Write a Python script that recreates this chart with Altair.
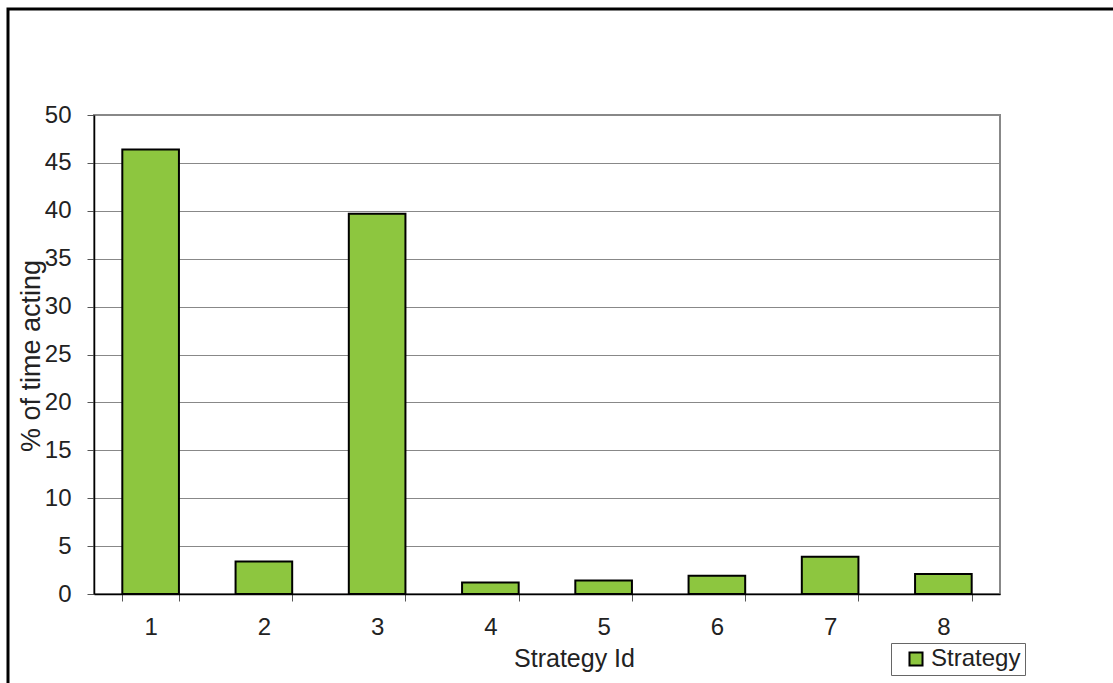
import altair as alt
import pandas as pd

strategy_ids = ["1", "2", "3", "4", "5", "6", "7", "8"]
pct_time = [46.4, 3.4, 39.7, 1.2, 1.4, 1.9, 3.9, 2.1]
series_name = ["Strategy"] * 8

df = pd.DataFrame({"id": strategy_ids, "pct": pct_time, "series": series_name})

FONT = "Liberation Sans"

bars = alt.Chart(df).mark_bar(stroke="black", strokeWidth=2).encode(
    x=alt.X("id:N", sort=strategy_ids,
            scale=alt.Scale(paddingInner=0.5, paddingOuter=0.25),
            axis=alt.Axis(title="Strategy Id", labelAngle=0, tickBand="extent",
                          tickSize=7, tickColor="#555", domainColor="black", domainWidth=1.5,
                          labelPadding=14, labelFontSize=24, labelFont=FONT, labelColor="#222",
                          titleFontSize=25, titleFont=FONT, titleFontWeight="normal", titleColor="#222",
                          titleX=480, titleY=64, titleBaseline="middle", titleAlign="center")),
    y=alt.Y("pct:Q", scale=alt.Scale(domain=[0, 50], nice=False),
            axis=alt.Axis(title="% of time acting", values=list(range(0, 51, 5)),
                          tickSize=7, tickColor="#555", domainColor="black", domainWidth=1.5,
                          gridColor="#888", gridWidth=1,
                          labelPadding=16, labelFontSize=24, labelFont=FONT, labelColor="#222",
                          titleFontSize=27, titleFont=FONT, titleFontWeight="normal", titleColor="#222",
                          titleAngle=-90, titleX=-63, titleY=240.5, titleAlign="center",
                          titleBaseline="middle")),
    color=alt.Color("series:N", scale=alt.Scale(range=["#8DC63F"]),
                    legend=alt.Legend(title=None, orient="none", legendX=797, legendY=528,
                                      strokeColor="#666", padding=4, symbolType="square",
                                      symbolSize=170, symbolStrokeColor="black", symbolStrokeWidth=2,
                                      labelFontSize=24, labelFont=FONT, labelColor="#222",
                                      labelOffset=3, symbolOffset=9)),
)

frame = alt.Chart(pd.DataFrame({"a": [0]})).mark_rect(
    fill=None, stroke="black", strokeWidth=3
).encode(
    x=alt.value(-86), x2=alt.value(1150), y=alt.value(-106), y2=alt.value(700)
)

chart = alt.layer(frame, bars).properties(
    width=906, height=479,
    autosize=alt.AutoSizeParams(type="none"),
    padding={"left": 94, "top": 115, "right": 113, "bottom": 89},
    background="white",
).configure_view(stroke="#888", strokeWidth=2)

chart.save("out.html", embed_options={"renderer": "svg", "actions": False})
